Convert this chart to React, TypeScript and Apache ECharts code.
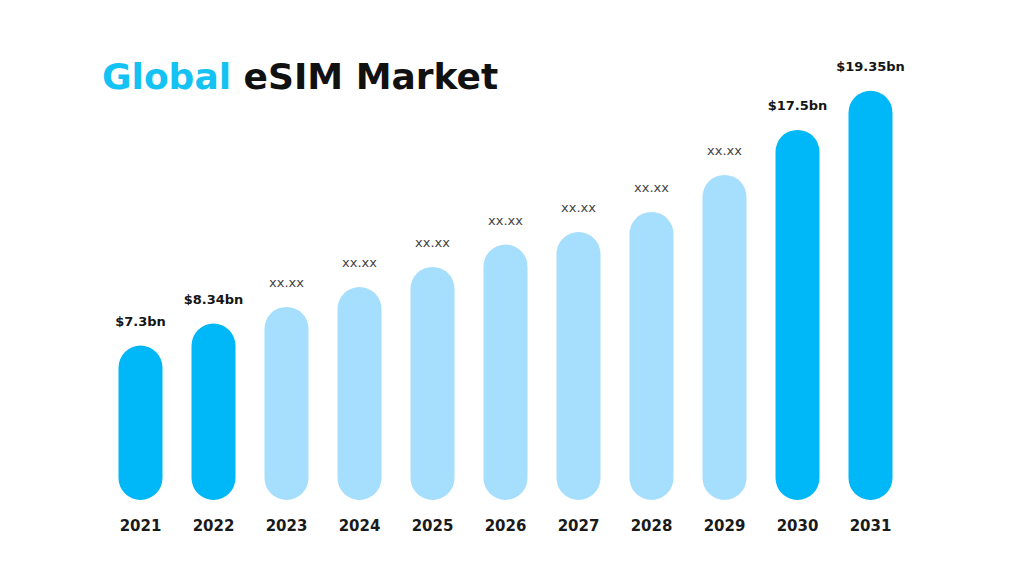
import React, { useEffect, useRef } from "react";
import * as echarts from "echarts";

const categories = ["2021", "2022", "2023", "2024", "2025", "2026", "2027", "2028", "2029", "2030", "2031"];
const values = [7.3, 8.34, 9.13, 10.07, 11.02, 12.08, 12.67, 13.62, 15.37, 17.5, 19.35];
const valueLabels = ["$7.3bn", "$8.34bn", "xx.xx", "xx.xx", "xx.xx", "xx.xx", "xx.xx", "xx.xx", "xx.xx", "$17.5bn", "$19.35bn"];
const isKnown = [true, true, false, false, false, false, false, false, false, true, true];

const DARK = "#00B7F7";
const LIGHT = "#A6DFFD";
const FONT = "DejaVu Sans";

export default function App() {
  const ref = useRef<HTMLDivElement>(null);
  useEffect(() => {
    if (!ref.current) return;
    const chart = echarts.init(ref.current, null, { renderer: "svg" });
    const data = values.map((v, i) => ({
      value: v,
      itemStyle: { color: isKnown[i] ? DARK : LIGHT },
      label: isKnown[i]
        ? { fontWeight: "bold", fontSize: 13, color: "#151515", fontFamily: FONT }
        : { fontWeight: "normal", fontSize: 13, color: "#444444", fontFamily: FONT },
    }));
    chart.setOption({
      animation: false,
      backgroundColor: "#ffffff",
      title: {
        text: "{a|Global }{b|eSIM Market}",
        left: 97,
        top: 53,
        textStyle: {
          rich: {
            a: { color: "#14C2F3", fontSize: 36, fontWeight: "bold", fontFamily: FONT },
            b: { color: "#111111", fontSize: 36, fontWeight: "bold", fontFamily: FONT },
          },
        },
      },
      grid: { left: 104, right: 117, top: 77, bottom: 76 },
      xAxis: {
        type: "category",
        data: categories,
        axisLine: { show: false },
        axisTick: { show: false },
        axisLabel: {
          margin: 18,
          fontSize: 15,
          fontWeight: "bold",
          color: "#1a1a1a",
          fontFamily: FONT,
        },
      },
      yAxis: {
        type: "value",
        min: 0,
        max: 20,
        show: false,
        splitLine: { show: false },
      },
      series: [
        {
          type: "bar",
          data,
          barWidth: 44,
          itemStyle: { borderRadius: 22 },
          label: {
            show: true,
            position: "top",
            distance: 18,
            formatter: (p: any) => valueLabels[p.dataIndex],
          },
        },
      ],
    });
    return () => chart.dispose();
  }, []);
  return (
    <div
      ref={ref}
      style={{ position: "fixed", left: 0, top: 0, width: 1024, height: 576, background: "#fff" }}
    />
  );
}
